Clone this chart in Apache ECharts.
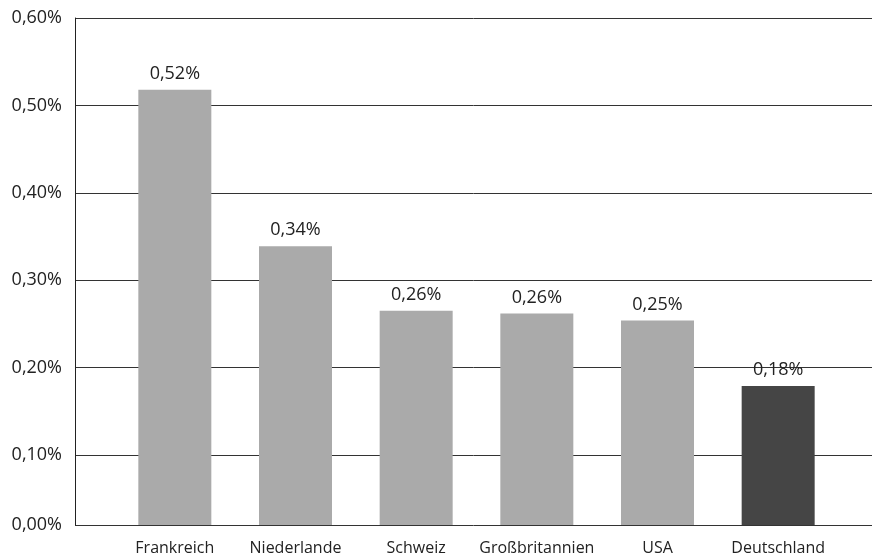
<!DOCTYPE html>
<html><head><meta charset="utf-8">
<script src="https://cdn.jsdelivr.net/npm/echarts@6/dist/echarts.min.js"></script>
<style>html,body{margin:0;padding:0;background:#fff}#c{width:872px;height:558px}</style>
</head><body><div id="c"></div>
<script>
const categories = ["Frankreich","Niederlande","Schweiz","Großbritannien","USA","Deutschland"];
const values = [0.518, 0.339, 0.265, 0.262, 0.254, 0.179];
const valueLabels = ["0,52%","0,34%","0,26%","0,26%","0,25%","0,18%"];
const barColors = ["#aaaaaa","#aaaaaa","#aaaaaa","#aaaaaa","#aaaaaa","#454545"];
// the reference's baseline labelled "0,00%" sits where 0.02 would be on the linear scale
const yTickValues = [0.02, 0.1, 0.2, 0.3, 0.4, 0.5, 0.6];
const yTickLabels = ["0,00%","0,10%","0,20%","0,30%","0,40%","0,50%","0,60%"];

const font = '"Open Sans", "Liberation Sans", sans-serif';
const yMin = yTickValues[0], yMax = yTickValues[yTickValues.length-1];
const chart = echarts.init(document.getElementById('c'));
chart.setOption({
  animation: false,
  grid: [
    {left: 75, right: 0, top: 18, bottom: 33, outerBoundsMode: 'none', containLabel: false},
    {left: 114.5, width: 724, top: 18, bottom: 33, outerBoundsMode: 'none', containLabel: false}
  ],
  xAxis: [
    {gridIndex: 0, type: 'category', data: categories, show: false},
    {gridIndex: 1, type: 'category', data: categories,
     axisLine: {show: false}, axisTick: {show: false},
     axisLabel: {interval: 0, color: '#222', fontFamily: font, fontSize: 16, margin: 15}}
  ],
  yAxis: [
    {gridIndex: 0, type: 'value', min: yMin, max: yMax,
     axisLine: {show: true, lineStyle: {color: '#222', width: 1}},
     axisTick: {show: false, customValues: yTickValues},
     splitLine: {show: true, lineStyle: {color: '#333', width: 1}},
     axisLabel: {customValues: yTickValues, color: '#222', fontFamily: font, fontSize: 18, margin: 13,
       formatter: v => yTickLabels[yTickValues.findIndex(t => Math.abs(t - v) < 1e-9)]}},
    {gridIndex: 1, type: 'value', min: yMin, max: yMax, show: false, splitLine: {show: false}}
  ],
  series: [{
    type: 'bar', xAxisIndex: 1, yAxisIndex: 1, barWidth: 73,
    data: values.map((v, i) => ({value: v, itemStyle: {color: barColors[i]}})),
    label: {show: true, position: 'top', distance: 7, color: '#222', fontFamily: font, fontSize: 18,
      formatter: p => valueLabels[p.dataIndex]}
  }]
});
</script></body></html>
